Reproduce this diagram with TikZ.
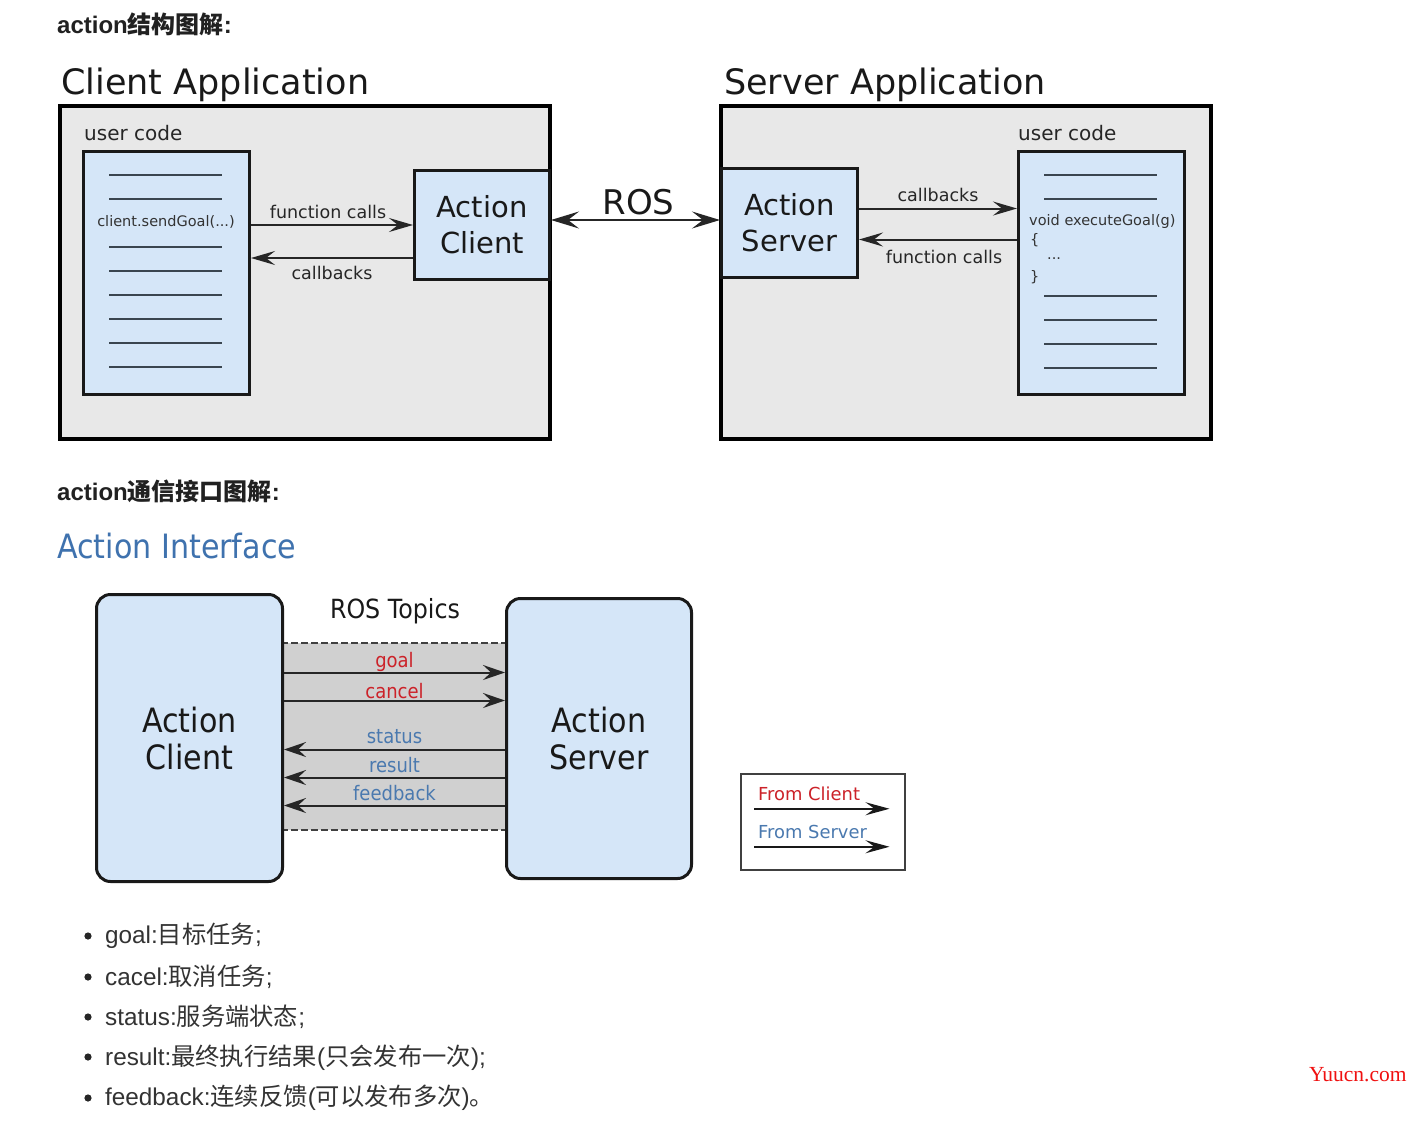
\documentclass[tikz,border=0pt]{standalone}
\usepackage{fontspec}
\setmainfont{Liberation Sans}
\newfontfamily\cjk{Noto Sans CJK SC}
\newfontfamily\dv{DejaVu Sans}
\newfontfamily\dvc{DejaVu Sans}[FakeStretch=0.9]
\newfontfamily\srf{Liberation Serif}
\usetikzlibrary{arrows.meta}
\definecolor{boxgray}{HTML}{E8E8E8}
\definecolor{boxblue}{HTML}{D5E6F8}
\definecolor{bandgray}{HTML}{D0D0D0}
\definecolor{cred}{HTML}{CC2229}
\definecolor{cblue}{HTML}{4A79AF}
\definecolor{titleblue}{HTML}{3F72AE}
\definecolor{codeline}{HTML}{3A4550}
\definecolor{wmred}{HTML}{F01010}
\newcommand{\fsz}[2]{\fontsize{#1pt}{#2pt}\selectfont}
\newcommand{\zh}[1]{{\cjk #1}}
\begin{document}
\begin{tikzpicture}[x=1pt,y=-1pt,
  outerbox/.style={draw=black, fill=boxgray, line width=4pt, anchor=north west, inner sep=0pt},
  codebox/.style={draw=black!90, fill=boxblue, line width=3pt, anchor=north west, inner sep=0pt},
  actbox/.style={draw=black!90, fill=boxblue, line width=3pt, anchor=north west, inner sep=0pt, align=center, font=\dv\fsz{29}{36}, text=black!90},
  ifbox/.style={draw=black!90, fill=boxblue, line width=3pt, rounded corners=14pt, anchor=north west, inner sep=0pt, align=center, font=\dvc\fsz{33.5}{37}, text=black!90},
  apptitle/.style={anchor=base west, inner sep=0pt, font=\dv\fsz{35}{40}, text=black!90},
  ucode/.style={anchor=base west, inner sep=0pt, font=\dv\fsz{20}{24}, text=black!85},
  codetxt/.style={inner sep=0pt, font=\dv\fsz{14.5}{17}, text=black!80},
  codeln/.style={draw=codeline, line width=1.8pt},
  arr/.style={draw=black!85, line width=2pt, -{Stealth[length=24pt,width=14pt,inset=9pt]}},
  rosarr/.style={draw=black!85, line width=2pt, {Stealth[length=28pt,width=17pt,inset=11pt]}-{Stealth[length=28pt,width=17pt,inset=11pt]}},
  lbl/.style={inner sep=0pt, font=\dv\fsz{17.5}{20}, text=black!85},
  topic/.style={draw=black!85, line width=2pt, -{Stealth[length=22pt,width=15pt,inset=8pt]}},
  tlbl/.style={inner sep=0pt, anchor=base, font=\dvc\fsz{20}{22}},
  headtxt/.style={anchor=base west, inner sep=0pt, font=\bfseries\fsz{24}{28}, text=black!87},
  bul/.style={anchor=base west, inner sep=0pt, font=\fsz{24.3}{28}, text=black!80},
  legtxt/.style={anchor=base west, inner sep=0pt, font=\dv\fsz{17.9}{20}},
  legarr/.style={draw=black!90, line width=2pt, -{Stealth[length=24pt,width=13pt,inset=9pt]}},
]
\useasboundingbox (0,0) rectangle (1419,1130);
\fill[white] (0,0) rectangle (1419,1130);

% ---------- heading 1
\node[headtxt] (h1) at (57,33) {action\zh{结构图解}:};

% ---------- client application
\node[apptitle] (ctitle) at (61,94) {Client Application};
\node[outerbox, minimum width=490pt, minimum height=333pt] (capp) at (58,104) {};
\node[ucode] (ucl) at (84,140) {user code};
\node[codebox, minimum width=166pt, minimum height=243pt] (codeL) at (82,150) {};
\foreach \yy in {175,199,247,271,295,319,343,367} \draw[codeln] (109,\yy) -- (222,\yy);
\node[codetxt] (sendg) at (166,222) {client.sendGoal(...)};
\node[actbox, minimum width=135pt, minimum height=109pt] (AC) at (413,169) {Action\\Client};

\draw[arr] (codeL.east |- AC.west) -- node[lbl, yshift=13pt, xshift=-4pt] {function calls} (AC.west);
\draw[arr] ([yshift=-33pt]AC.west) -- node[lbl, yshift=-15pt] {callbacks} ([yshift=-33pt]AC.west -| codeL.east);

% ---------- server application
\node[apptitle] (stitle) at (724,94) {Server Application};
\node[outerbox, minimum width=490pt, minimum height=333pt] (sapp) at (719,104) {};
\node[ucode] (ucr) at (1018,140) {user code};
\node[codebox, minimum width=166pt, minimum height=243pt] (codeR) at (1017,150) {};
\foreach \yy in {175,199,296,320,344,368} \draw[codeln] (1044,\yy) -- (1157,\yy);
\node[codetxt, anchor=west] (exg) at (1029,221) {void executeGoal(g)};
\node[codetxt, anchor=west] (lb) at (1030,240) {\{};
\node[codetxt, anchor=west] (dots) at (1047,259) {...};
\node[codetxt, anchor=west] (rb) at (1030,277) {\}};
\node[actbox, minimum width=136pt, minimum height=109pt] (AS) at (720,167) {Action\\Server};

\draw[arr] ([yshift=14.5pt]AS.east) -- node[lbl, yshift=14pt] {callbacks} ([yshift=14.5pt]AS.east -| codeR.west);
\draw[arr] ([yshift=-16.5pt]AS.east -| codeR.west) -- node[lbl, yshift=-17pt, xshift=6pt] {function calls} ([yshift=-16.5pt]AS.east);

% ---------- ROS link
\draw[rosarr] ([yshift=5pt]AC.east) -- node[inner sep=0pt, font=\dv\fsz{34}{40}, text=black!90, yshift=18pt, xshift=3pt] {ROS} ([yshift=5pt]AC.east -| AS.west);

% ---------- heading 2
\node[headtxt] (h2) at (57,500) {action\zh{通信接口图解}:};
\node[anchor=base west, inner sep=0pt, font=\dvc\fsz{33.5}{36}, text=titleblue] (aif) at (57,558) {Action Interface};

% ---------- action interface diagram
\fill[bandgray] (281,643) rectangle (505,830);
\draw[black!75, line width=1.5pt, dash pattern=on 7pt off 3pt] (281,643) -- (505,643);
\draw[black!75, line width=1.5pt, dash pattern=on 7pt off 3pt] (281,830) -- (505,830);
\node[ifbox, minimum width=186pt, minimum height=287pt] (ACb) at (95,593) {Action\\Client};
\node[ifbox, minimum width=185pt, minimum height=280pt] (ASb) at (505,597) {Action\\Server};
\node[inner sep=0pt, font=\dvc\fsz{26.4}{30}, text=black!90] (rtop) at (395,611) {ROS Topics};

\draw[topic] ([yshift=65.5pt]ACb.east) -- node[tlbl, text=cred, yshift=5pt] {goal} ([yshift=65.5pt]ACb.east -| ASb.west);
\draw[topic] ([yshift=37.5pt]ACb.east) -- node[tlbl, text=cred, yshift=2pt] {cancel} ([yshift=37.5pt]ACb.east -| ASb.west);
\draw[topic] ([yshift=-11.5pt]ACb.east -| ASb.west) -- node[tlbl, text=cblue, yshift=6pt] {status} ([yshift=-11.5pt]ACb.east);
\draw[topic] ([yshift=-39.5pt]ACb.east -| ASb.west) -- node[tlbl, text=cblue, yshift=5pt] {result} ([yshift=-39.5pt]ACb.east);
\draw[topic] ([yshift=-67.5pt]ACb.east -| ASb.west) -- node[tlbl, text=cblue, yshift=5pt] {feedback} ([yshift=-67.5pt]ACb.east);

% ---------- legend
\node[draw=black!75, fill=white, line width=1.5pt, anchor=north west, minimum width=164pt, minimum height=96pt, inner sep=0pt] (leg) at (740,773) {};
\node[legtxt, text=cred] (lc) at (758,800) {From Client};
\node[legtxt, text=cblue] (ls) at (758,838) {From Server};
\draw[legarr] ([xshift=14pt,yshift=13pt]leg.west) -- ([xshift=-16pt,yshift=13pt]leg.east);
\draw[legarr] ([xshift=14pt,yshift=-25pt]leg.west) -- ([xshift=-16pt,yshift=-25pt]leg.east);

% ---------- bullet list
\foreach \yy in {936,977,1017,1057,1098} \fill[black!85] (88,\yy) circle (3.6pt);
\node[bul] (b1) at (105,943) {goal:\zh{目标任务};};
\node[bul] (b2) at (105,985) {cacel:\zh{取消任务};};
\node[bul] (b3) at (105,1025) {status:\zh{服务端状态};};
\node[bul] (b4) at (105,1065) {result:\zh{最终执行结果}(\zh{只会发布一次});};
\node[bul] (b5) at (105,1105) {feedback:\zh{连续反馈}(\zh{可以发布多次})\zh{。}};

% ---------- watermark text
\node[anchor=base west, inner sep=0pt, font=\srf\fsz{21.5}{24}, text=wmred] (wm) at (1309,1081) {Yuucn.com};
\end{tikzpicture}
\end{document}
